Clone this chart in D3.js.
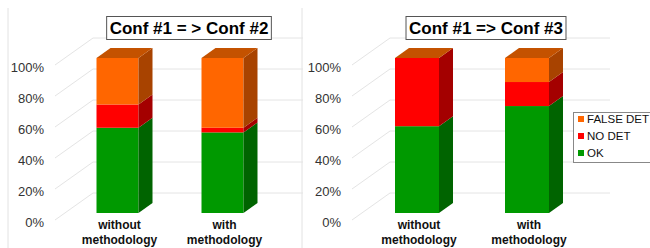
<!DOCTYPE html>
<html lang="en">
<head>
    <meta charset="UTF-8">
    <title>Conf comparison</title>
    <script src="https://d3js.org/d3.v7.min.js"></script>
    <style>
        body {
            margin: 0;
            background: #fff;
            font-family: Arial, "Liberation Sans", sans-serif;
        }
        .tick-label {
            font-size: 13px;
            fill: #333;
            text-anchor: end;
        }
        .cat-label {
            font-size: 12px;
            font-weight: bold;
            fill: #111;
            text-anchor: middle;
        }
        .title {
            font-size: 17px;
            font-weight: bold;
            fill: #000;
            text-anchor: middle;
        }
        .legend-text {
            font-size: 11.5px;
            fill: #111;
        }
    </style>
</head>
<body>
<div id="chart"></div>

<script>
    // data (percent of detections)
    const categories = ["without methodology", "with methodology"];
    const seriesNames = ["OK", "NO DET", "FALSE DET"];
    const tickValues = [0, 20, 40, 60, 80, 100];

    const conf2Ok = [55, 52];
    const conf2NoDet = [15, 3];
    const conf2FalseDet = [30, 45];

    const conf3Ok = [56, 69];
    const conf3NoDet = [44, 15.5];
    const conf3FalseDet = [0, 15.5];

    const width = 650, height = 248;

    // front, side and top colours per series
    const colors = {
        "OK":        { front: "#009900", side: "#006400", top: "#00a000" },
        "NO DET":    { front: "#ff0000", side: "#a40000", top: "#c00000" },
        "FALSE DET": { front: "#ff6600", side: "#a84300", top: "#c45200" }
    };

    // 3d offsets: full floor depth, bar front and bar depth
    const depth = { dx: 38, dy: -27 };
    const barFront = { dx: 10, dy: -7 };
    const barDepth = { dx: 14, dy: -10 };

    const svg = d3.select("#chart")
        .append("svg")
        .attr("width", width)
        .attr("height", height);

    // light frame lines of the two pasted chart pictures
    svg.append("line").attr("x1", 8).attr("x2", 8).attr("y1", 8).attr("y2", height)
        .attr("stroke", "#e2e2e2");
    svg.append("line").attr("x1", 302).attr("x2", 302).attr("y1", 8).attr("y2", height)
        .attr("stroke", "#e2e2e2");

    function drawChart(opts) {
        const g = svg.append("g");

        const x = d3.scaleBand()
            .domain(categories)
            .range(opts.xRange)
            .paddingInner(0.6)
            .paddingOuter(0.3);

        const y = d3.scaleLinear()
            .domain([0, 100])
            .range([220, 65]);

        const x0 = opts.xRange[0], x1 = opts.xRange[1];

        // diagonal side-wall lines + back-wall gridlines
        tickValues.forEach(t => {
            g.append("path")
                .attr("d", `M${x0},${y(t)} L${x0 + depth.dx},${y(t) + depth.dy} L${x1 + depth.dx},${y(t) + depth.dy}`)
                .attr("fill", "none")
                .attr("stroke", "#e4e4e4")
                .attr("stroke-width", 1);

            g.append("text")
                .attr("class", "tick-label")
                .attr("x", opts.labelX)
                .attr("y", y(t) + 2)
                .attr("dy", "0.35em")
                .text(t + "%");
        });

        const rows = categories.map((c, i) => ({
            cat: c,
            "OK": opts.ok[i],
            "NO DET": opts.noDet[i],
            "FALSE DET": opts.falseDet[i]
        }));

        const stacked = d3.stack().keys(seriesNames)(rows);
        const w = x.bandwidth();

        stacked.forEach(layer => {
            const col = colors[layer.key];
            layer.forEach(d => {
                const bx = x(d.data.cat) + barFront.dx;
                const yb = y(d[0]) + barFront.dy;
                const yt = y(d[1]) + barFront.dy;
                if (yb - yt <= 0) return;

                g.append("rect")
                    .attr("x", bx)
                    .attr("y", yt)
                    .attr("width", w)
                    .attr("height", yb - yt)
                    .attr("fill", col.front);

                g.append("path")
                    .attr("d", `M${bx + w},${yb} L${bx + w},${yt} L${bx + w + barDepth.dx},${yt + barDepth.dy} L${bx + w + barDepth.dx},${yb + barDepth.dy} Z`)
                    .attr("fill", col.side);
            });
        });

        // top face coloured by the last series, as in the picture
        const topLayer = stacked[stacked.length - 1];
        topLayer.forEach(d => {
            const bx = x(d.data.cat) + barFront.dx;
            const yt = y(d[1]) + barFront.dy;
            g.append("path")
                .attr("d", `M${bx},${yt} L${bx + w},${yt} L${bx + w + barDepth.dx},${yt + barDepth.dy} L${bx + barDepth.dx},${yt + barDepth.dy} Z`)
                .attr("fill", colors[topLayer.key].top);
        });

        // category labels, two lines each
        categories.forEach(c => {
            const cx = x(c) + barFront.dx + w / 2 + 2;
            const words = c.split(" ");
            g.append("text").attr("class", "cat-label")
                .attr("x", cx).attr("y", 229).text(words[0]);
            g.append("text").attr("class", "cat-label")
                .attr("x", cx).attr("y", 244).text(words[1]);
        });

        // boxed title
        const title = g.append("text")
            .attr("class", "title")
            .attr("x", opts.titleX)
            .attr("y", 34)
            .text(opts.title);
        const tw = title.node().getComputedTextLength();
        g.insert("rect", "text.title")
            .attr("x", opts.titleX - tw / 2 - 3)
            .attr("y", 16.5)
            .attr("width", tw + 6)
            .attr("height", 23)
            .attr("fill", "#fff")
            .attr("stroke", "#555")
            .attr("stroke-width", 1);
    }

    drawChart({
        title: "Conf #1 = > Conf #2",
        titleX: 189,
        xRange: [55, 265],
        labelX: 44,
        ok: conf2Ok, noDet: conf2NoDet, falseDet: conf2FalseDet
    });

    drawChart({
        title: "Conf #1 => Conf #3",
        titleX: 486,
        xRange: [352, 572],
        labelX: 341,
        ok: conf3Ok, noDet: conf3NoDet, falseDet: conf3FalseDet
    });

    // legend
    const legend = svg.append("g");
    legend.append("rect")
        .attr("x", 573.5).attr("y", 112.5)
        .attr("width", 90).attr("height", 50)
        .attr("fill", "#fff")
        .attr("stroke", "#888");

    seriesNames.slice().reverse().forEach((s, i) => {
        const ly = 119 + i * 17;
        legend.append("rect")
            .attr("x", 578).attr("y", ly - 3)
            .attr("width", 6).attr("height", 6)
            .attr("fill", colors[s].front);
        legend.append("text")
            .attr("class", "legend-text")
            .attr("x", 587).attr("y", ly)
            .attr("dy", "0.35em")
            .text(s);
    });
</script>
</body>
</html>
